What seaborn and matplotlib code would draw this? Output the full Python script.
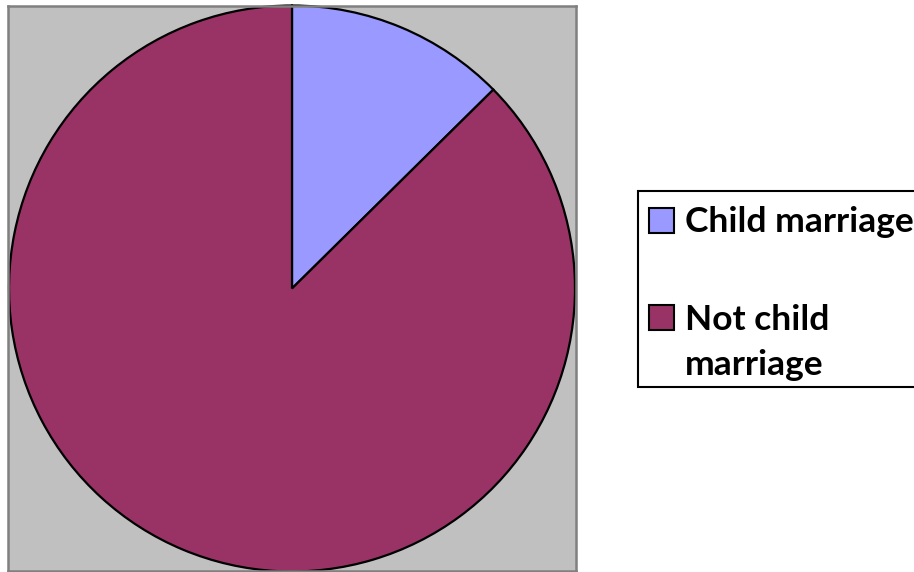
import matplotlib
matplotlib.use("Agg")
import matplotlib.pyplot as plt
from matplotlib.patches import Rectangle
import seaborn as sns

# Share of marriages
categories = ["Child marriage", "Not child marriage"]
legend_lines = [["Child marriage"], ["Not child", "marriage"]]
shares = [12.6, 87.4]
colors = ["#9999FF", "#993366"]

sns.set_theme(style="white")
plt.rcParams["font.family"] = ["Lato", "DejaVu Sans"]
plt.rcParams["text.color"] = "black"

W, H = 914, 572
fig = plt.figure(figsize=(W / 100, H / 100), dpi=100)


def fx(x):
    return x / W


def fy(y):
    return 1 - y / H


# plot area in pixel coordinates
left, right, top, bottom = 8, 576, 6, 571
ax = fig.add_axes([fx(left), fy(bottom), (right - left) / W, (bottom - top) / H])
ax.set_facecolor("#C0C0C0")
for s in ax.spines.values():
    s.set_visible(True)
    s.set_color("#808080")
    s.set_linewidth(1.8)

r_px = 283.0
cx, cy = 292.0, 288.5
wedges, _ = ax.pie(
    shares,
    colors=colors,
    startangle=90,
    counterclock=False,
    radius=1.0,
    wedgeprops=dict(edgecolor="black", linewidth=1.6),
    frame=True,
)
ax.set_aspect("auto")
ax.set_xlim((left - cx) / r_px, (right - cx) / r_px)
ax.set_ylim((cy - bottom) / r_px, (cy - top) / r_px)
ax.set_xticks([])
ax.set_yticks([])

# legend box: frame, colour keys and labels
fig.add_artist(Rectangle((fx(638), fy(387)), (918 - 638) / W, (387 - 191) / H,
                         transform=fig.transFigure, facecolor="white",
                         edgecolor="black", linewidth=1.5, zorder=3))
key_tops = [208, 305]
first_baselines = [232, 330]
line_step = 45
for color, lines, ktop, base in zip(colors, legend_lines, key_tops, first_baselines):
    fig.add_artist(Rectangle((fx(649), fy(ktop + 25)), 25 / W, 25 / H,
                             transform=fig.transFigure, facecolor=color,
                             edgecolor="black", linewidth=1.5, zorder=4))
    for i, line in enumerate(lines):
        fig.text(fx(685), fy(base + i * line_step), line, ha="left", va="baseline",
                 fontsize=25.5, fontweight="bold", color="black",
                 family=["Lato", "DejaVu Sans"], zorder=5)

fig.savefig("out.png", dpi=100)
